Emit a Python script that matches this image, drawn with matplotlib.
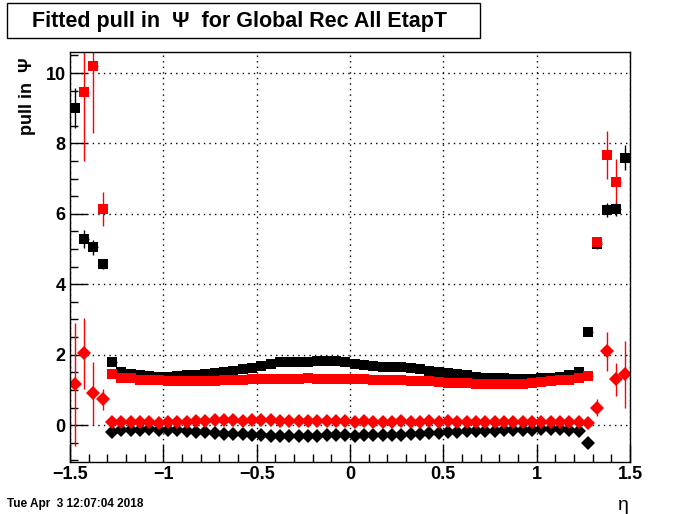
import matplotlib
matplotlib.use("Agg")
import matplotlib.pyplot as plt
import matplotlib.patches as patches
from matplotlib.ticker import MultipleLocator

plt.rcParams['font.family'] = ['Liberation Sans', 'DejaVu Sans']

# bin centres (eta), central region -1.275 .. 1.275
eta_mid = [-1.275, -1.225, -1.175, -1.125, -1.075, -1.025, -0.975, -0.925, -0.875,
           -0.825, -0.775, -0.725, -0.675, -0.625, -0.575, -0.525, -0.475, -0.425,
           -0.375, -0.325, -0.275, -0.225, -0.175, -0.125, -0.075, -0.025,
           0.025, 0.075, 0.125, 0.175, 0.225, 0.275, 0.325, 0.375, 0.425, 0.475,
           0.525, 0.575, 0.625, 0.675, 0.725, 0.775, 0.825, 0.875, 0.925, 0.975,
           1.025, 1.075, 1.125, 1.175, 1.225, 1.275]

blk_sq_mid = [1.78, 1.52, 1.46, 1.43, 1.40, 1.38, 1.38, 1.39, 1.41, 1.42, 1.44, 1.48,
              1.51, 1.53, 1.58, 1.63, 1.68, 1.73, 1.78, 1.79, 1.79, 1.80, 1.81, 1.82,
              1.81, 1.79, 1.74, 1.71, 1.69, 1.66, 1.66, 1.64, 1.62, 1.58, 1.55, 1.51,
              1.48, 1.46, 1.43, 1.37, 1.35, 1.33, 1.33, 1.31, 1.31, 1.31, 1.33, 1.35,
              1.38, 1.41, 1.50, 2.65]
red_sq_mid = [1.44, 1.35, 1.33, 1.29, 1.29, 1.27, 1.24, 1.24, 1.24, 1.24, 1.24, 1.26,
              1.28, 1.28, 1.29, 1.30, 1.30, 1.30, 1.31, 1.32, 1.32, 1.34, 1.32, 1.32,
              1.32, 1.30, 1.30, 1.30, 1.28, 1.28, 1.27, 1.27, 1.26, 1.26, 1.24, 1.22,
              1.21, 1.19, 1.19, 1.18, 1.18, 1.16, 1.16, 1.16, 1.18, 1.20, 1.22, 1.24,
              1.28, 1.28, 1.34, 1.39]
red_dm_mid = [0.09, 0.09, 0.09, 0.10, 0.09, 0.07, 0.08, 0.09, 0.09, 0.12, 0.12, 0.14,
              0.14, 0.14, 0.13, 0.14, 0.14, 0.15, 0.13, 0.13, 0.12, 0.13, 0.12, 0.12,
              0.12, 0.12, 0.10, 0.11, 0.10, 0.10, 0.10, 0.11, 0.10, 0.10, 0.11, 0.10,
              0.11, 0.10, 0.10, 0.10, 0.10, 0.09, 0.09, 0.10, 0.09, 0.09, 0.09, 0.09,
              0.09, 0.09, 0.09, 0.05]
blk_dm_mid = [-0.20, -0.14, -0.14, -0.14, -0.12, -0.14, -0.14, -0.14, -0.17, -0.20,
              -0.20, -0.22, -0.24, -0.24, -0.26, -0.27, -0.28, -0.30, -0.31, -0.31,
              -0.31, -0.30, -0.30, -0.29, -0.29, -0.28, -0.30, -0.29, -0.27, -0.27,
              -0.27, -0.27, -0.24, -0.24, -0.22, -0.21, -0.20, -0.19, -0.17, -0.17,
              -0.17, -0.16, -0.14, -0.14, -0.14, -0.14, -0.12, -0.12, -0.12, -0.14,
              -0.16, -0.50]

# outer bins (large pulls, visible errors)
blk_sq_eta = [-1.475, -1.425, -1.375, -1.325, 1.325, 1.375, 1.425, 1.475]
blk_sq_val = [9.00, 5.28, 5.05, 4.57, 5.15, 6.10, 6.13, 7.60]
blk_sq_err = [0.57, 0.25, 0.22, 0.15, 0.15, 0.20, 0.20, 0.35]

red_sq_eta = [-1.425, -1.375, -1.325, 1.325, 1.375, 1.425]
red_sq_val = [9.45, 10.20, 6.13, 5.20, 7.67, 6.90]
red_sq_err = [1.94, 1.90, 0.48, 0.10, 0.68, 0.66]

red_dm_eta = [-1.475, -1.425, -1.375, -1.325, 1.325, 1.375, 1.425, 1.475]
red_dm_val = [1.16, 2.04, 0.90, 0.73, 0.50, 2.10, 1.30, 1.45]
red_dm_err = [1.75, 1.00, 0.90, 0.30, 0.25, 0.55, 0.46, 0.95]

half_bin = 0.025
x_ticks = [-1.5, -1, -0.5, 0, 0.5, 1, 1.5]
x_labels = ['\u22121.5', '\u22121', '\u22120.5', '0', '0.5', '1', '1.5']
y_ticks = [0, 2, 4, 6, 8, 10]

fig = plt.figure(figsize=(7, 5.14), dpi=100)
ax = fig.add_axes([0.1, 0.101, 0.8, 0.798])

sq = dict(fmt='s', ms=6.5, mew=0, elinewidth=1, capsize=0)
dm = dict(fmt='D', ms=6.8, mew=0, elinewidth=1, capsize=0)

ax.errorbar(blk_sq_eta + eta_mid, blk_sq_val + blk_sq_mid,
            yerr=blk_sq_err + [0] * len(eta_mid), xerr=half_bin, color='black', **sq)
ax.errorbar(red_sq_eta + eta_mid, red_sq_val + red_sq_mid,
            yerr=red_sq_err + [0] * len(eta_mid), xerr=half_bin, color='red', **sq)
ax.errorbar(eta_mid, blk_dm_mid, xerr=half_bin, color='black', **dm)
ax.errorbar(red_dm_eta + eta_mid, red_dm_val + red_dm_mid,
            yerr=red_dm_err + [0] * len(eta_mid), xerr=half_bin, color='red', **dm)

ax.set_xlim(-1.5, 1.5)
ax.set_ylim(-1.05, 10.6)
ax.set_xticks(x_ticks)
ax.set_xticklabels(x_labels)
ax.set_yticks(y_ticks)
ax.xaxis.set_minor_locator(MultipleLocator(0.1))
ax.yaxis.set_minor_locator(MultipleLocator(0.5))
ax.tick_params(which='both', direction='in', top=False, right=False,
               labelsize=13, width=1)
ax.tick_params(which='major', length=12, pad=3)
ax.tick_params(which='minor', length=6)
for lab in ax.get_xticklabels() + ax.get_yticklabels():
    lab.set_fontweight('bold')
ax.grid(True, which='major', color='black', linestyle=(0, (1, 3)), linewidth=1)
for s in ax.spines.values():
    s.set_linewidth(1)

# axis titles placed like ROOT (at the far ends of the axes)
fig.text(28 / 700, 1 - 57 / 514, 'pull in  \u03a8', rotation=90, ha='center', va='top',
         fontsize=13, fontweight='bold')
fig.text(623 / 700, 1 - 505 / 514, '\u03b7', ha='center', va='center', fontsize=14)

# title box
fig.patches.append(patches.Rectangle((7 / 700, 1 - 38 / 514), 473 / 700, 35 / 514,
                                     transform=fig.transFigure, facecolor='white',
                                     edgecolor='black', linewidth=1))
fig.text(240 / 700, 1 - 21 / 514, 'Fitted pull in  \u03a8  for Global Rec All EtapT',
         ha='center', va='center', fontsize=15.5, fontweight='bold')

fig.text(7 / 700, 1 - 504 / 514, 'Tue Apr  3 12:07:04 2018', ha='left', va='center',
         fontsize=8.5, fontweight='bold')

fig.savefig('out.png', dpi=100)
